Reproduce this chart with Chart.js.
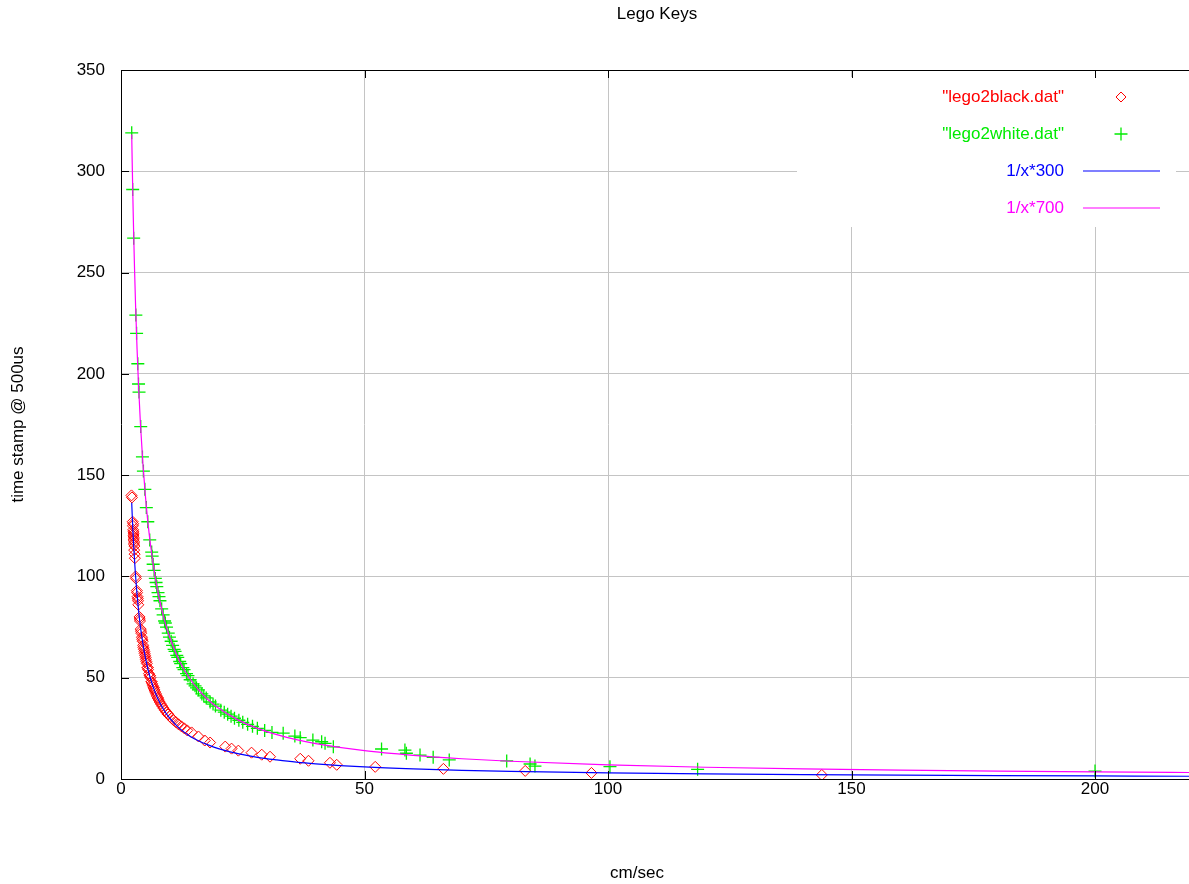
<!DOCTYPE html>
<html>
<head>
<meta charset="utf-8">
<script src="https://cdn.jsdelivr.net/npm/chart.js@4/dist/chart.umd.min.js"></script>
<style>
html,body{margin:0;padding:0;background:#fff;}
#wrap{width:1189px;height:884px;}
</style>
</head>
<body>
<div id="wrap"><canvas id="c" width="1189" height="884"></canvas></div>
<script>
// ---- data ----
const chartTitle = "Lego Keys";
const xTitle = "cm/sec";
const yTitle = "time stamp @ 500us";
const xTicks = [0, 50, 100, 150, 200];
const yTicks = [0, 50, 100, 150, 200, 250, 300, 350];

const blackLabel = '"lego2black.dat"';
const blackX = [2.15,2.25,2.4,2.5,2.45,2.5,2.55,2.6,2.55,2.65,2.6,2.7,2.65,2.75,2.7,2.8,2.85,3.0,3.05,3.25,3.3,3.4,3.45,3.5,3.55,3.8,3.85,3.9,4.05,4.1,4.15,4.3,4.35,4.45,4.55,4.6,4.7,4.8,4.85,4.95,5.05,5.1,5.2,5.3,5.45,5.5,5.55,5.75,5.9,5.95,6.05,6.25,6.3,6.4,6.55,6.7,6.75,6.85,7.0,7.2,7.35,7.55,7.6,7.75,7.95,8.2,8.45,8.7,9.0,9.3,9.6,9.7,10.0,10.4,10.8,11.3,11.8,12.4,13.0,13.6,14.5,15.9,17.2,18.3,21.4,22.7,24.1,26.8,28.9,30.6,36.8,38.5,42.9,44.3,52.2,66.2,83,96.6,143.9];
const blackY = [140,139,127,126,125,123,122,121,120,119,118,117,116,115,113,111,109,100,99,93,92,90,89,88,86,80,79,78,74,73,72,70,69,68,66,65,64,63,62,61,60,59,58,57,55,55,54,52,51,51,50,48,48,47,46,45,45,44,43,42,41,40,40,39,38,37,36,35,34,33,32,32,31,30,29,28,27,26,25,24,23,21,19,18,16,15,14,13,12,11,10,9,8,7,6,5,4,3,2];

const whiteLabel = '"lego2white.dat"';
const whiteX = [2.2,2.4,2.6,3.05,3.2,3.45,3.6,3.7,4.05,4.4,4.6,4.9,5.2,5.5,5.9,6.3,6.4,6.6,6.8,7.05,7.2,7.35,7.6,7.8,8.0,8.35,8.65,8.95,9.1,9.35,9.7,9.95,10.3,10.6,10.9,11.1,11.45,11.65,12.05,12.25,12.7,12.95,13.45,13.75,14.2,14.8,15.2,15.5,15.9,16.6,17.0,17.5,18.3,18.9,19.4,20.5,21.2,21.9,22.6,23.3,24.2,25.0,26.0,27.0,28.0,29.5,31.0,33.3,35.7,36.8,39.4,41.2,41.9,43.6,53.5,58.3,58.6,61.4,64.1,67.4,79.2,84,85,100.4,118.4,200];
const whiteY = [319,291,267,229,220,205,195,191,174,159,152,143,134,127,118,112,110,106,103,99,97,95,92,90,88,84,81,78,77,75,72,70,68,66,64,63,61,60,58,57,55,54,52,51,49,47,46,45,44,42,41,40,38,37,36,34,33,32,31,30,29,28,27,26,25,24,23,22.6,21.2,20.4,19.2,18.4,17.6,15.9,14.8,14.3,12.7,11.8,10.7,9.4,8.9,7.4,6.4,6.1,4.8,3.9];

// curves as drawn: 1/x*300 and 1/x*700
const curveX = [2.2,2.3,2.4,2.5,2.6,2.8,3,3.3,3.6,4,4.5,5,5.5,6,7,8,9,10,12,14,16,18,20,24,28,32,36,40,50,60,70,80,100,120,140,160,180,200,220];
const c300Label = "1/x*300";
const c300Y = [136.4,130.4,125,120,115.4,107.1,100,90.9,83.3,75,66.7,60,54.5,50,42.9,37.5,33.3,30,25,21.4,18.75,16.7,15,12.5,10.7,9.4,8.3,7.5,6,5,4.3,3.75,3,2.5,2.14,1.88,1.67,1.5,1.36];
const c700Label = "1/x*700";
const c700Y = [318.2,304.3,291.7,280,269.2,250,233.3,212.1,194.4,175,155.6,140,127.3,116.7,100,87.5,77.8,70,58.3,50,43.75,38.9,35,29.2,25,21.9,19.4,17.5,14,11.7,10,8.75,7,5.8,5,4.4,3.9,3.5,3.2];

const RED = "rgb(255,0,0)", GREEN = "rgb(0,235,0)", BLUE = "rgb(0,0,255)", MAGENTA = "rgb(255,0,255)";
const FONT = "'Liberation Sans', Arial, sans-serif";

function pts(xs, ys){ return xs.map((x,i)=>({x:x, y:ys[i]})); }

const keyBox = {left:797, top:77, right:1176, bottom:227};

const gnuplotDecor = {
  id: 'gnuplotDecor',
  beforeDatasetsDraw(chart){
    const ctx = chart.ctx;
    ctx.save();
    ctx.fillStyle = '#fff';
    ctx.fillRect(keyBox.left, keyBox.top, keyBox.right-keyBox.left, keyBox.bottom-keyBox.top);
    ctx.restore();
  },
  afterDatasetsDraw(chart){
    const ctx = chart.ctx, a = chart.chartArea;
    const xs = chart.scales.x, ys = chart.scales.y;
    ctx.save();
    ctx.strokeStyle = '#000';
    ctx.lineWidth = 1;
    ctx.beginPath();
    ctx.moveTo(Math.round(a.left)+0.5, a.top); ctx.lineTo(Math.round(a.left)+0.5, a.bottom);
    ctx.moveTo(a.left, Math.round(a.bottom)+0.5); ctx.lineTo(a.right, Math.round(a.bottom)+0.5);
    ctx.moveTo(a.left, Math.round(a.top)+0.5); ctx.lineTo(a.right, Math.round(a.top)+0.5);
    yTicks.forEach(v=>{ const y = Math.round(ys.getPixelForValue(v))+0.5; ctx.moveTo(a.left, y); ctx.lineTo(a.left+8, y); });
    xTicks.forEach(v=>{ const x = Math.round(xs.getPixelForValue(v))+0.5; ctx.moveTo(x, a.bottom); ctx.lineTo(x, a.bottom-8); ctx.moveTo(x, a.top); ctx.lineTo(x, a.top+8); });
    ctx.stroke();

    // titles
    ctx.font = '17px ' + FONT;
    ctx.fillStyle = '#000';
    ctx.textAlign = 'center';
    ctx.textBaseline = 'middle';
    ctx.fillText(chartTitle, 657, 14);
    ctx.fillText(xTitle, 637, 873);

    // key
    ctx.textAlign = 'right';
    const tx = 1064, sx = 1121, l0 = 1083, l1 = 1160;
    const rows = [97, 134, 171, 208];
    ctx.fillStyle = RED; ctx.fillText(blackLabel, tx, rows[0]);
    ctx.fillStyle = GREEN; ctx.fillText(whiteLabel, tx, rows[1]);
    ctx.fillStyle = BLUE; ctx.fillText(c300Label, tx, rows[2]);
    ctx.fillStyle = MAGENTA; ctx.fillText(c700Label, tx, rows[3]);
    ctx.lineWidth = 1;
    ctx.strokeStyle = RED; ctx.beginPath();
    ctx.moveTo(sx, rows[0]-5); ctx.lineTo(sx+5, rows[0]); ctx.lineTo(sx, rows[0]+5); ctx.lineTo(sx-5, rows[0]); ctx.closePath(); ctx.stroke();
    ctx.strokeStyle = GREEN; ctx.lineWidth = 1.3; ctx.beginPath();
    ctx.moveTo(sx-6.5, rows[1]); ctx.lineTo(sx+6.5, rows[1]); ctx.moveTo(sx, rows[1]-6.5); ctx.lineTo(sx, rows[1]+6.5); ctx.stroke();
    ctx.lineWidth = 1.2;
    ctx.strokeStyle = BLUE; ctx.beginPath(); ctx.moveTo(l0, rows[2]); ctx.lineTo(l1, rows[2]); ctx.stroke();
    ctx.strokeStyle = MAGENTA; ctx.beginPath(); ctx.moveTo(l0, rows[3]); ctx.lineTo(l1, rows[3]); ctx.stroke();
    ctx.restore();
  }
};

const gridColor = (ctx) => (ctx.tick && ctx.tick.value === 0) ? 'rgba(0,0,0,0)' : '#c4c4c4';

new Chart(document.getElementById('c'), {
  type: 'scatter',
  data: {
    datasets: [
      {label: blackLabel, data: pts(blackX, blackY), pointStyle:'rectRot', pointRadius:5.5, pointBorderWidth:1, borderColor:RED, backgroundColor:'rgba(0,0,0,0)', showLine:false, order:3},
      {label: whiteLabel, data: pts(whiteX, whiteY), pointStyle:'cross', pointRadius:6.5, pointBorderWidth:1.3, borderColor:GREEN, backgroundColor:GREEN, showLine:false, order:2},
      {label: c300Label, data: pts(curveX, c300Y), showLine:true, pointRadius:0, borderColor:BLUE, borderWidth:1.2, cubicInterpolationMode:'monotone', order:1},
      {label: c700Label, data: pts(curveX, c700Y), showLine:true, pointRadius:0, borderColor:MAGENTA, borderWidth:1.2, cubicInterpolationMode:'monotone', order:0}
    ]
  },
  options: {
    responsive:false,
    animation:false,
    events:[],
    layout:{autoPadding:false, padding:{left:0,right:0,top:70,bottom:0}},
    plugins:{
      legend:{display:false},
      tooltip:{enabled:false},
      title:{display:false, text:chartTitle}
    },
    scales:{
      x:{type:'linear', min:0, max:219.3,
         afterFit(s){ s.height = 105; s.paddingRight = 0; s.paddingLeft = 0; },
         afterBuildTicks(s){ s.ticks = xTicks.map(v=>({value:v})); },
         ticks:{color:'#000', font:{family:FONT, size:17}, padding:0, maxRotation:0, autoSkip:false, includeBounds:false},
         grid:{color:gridColor, drawTicks:false, lineWidth:1},
         border:{display:false},
         title:{display:false, text:xTitle}
      },
      y:{type:'linear', min:0, max:350,
         afterFit(s){ s.width = 121; s.paddingTop = 0; s.paddingBottom = 0; },
         afterBuildTicks(s){ s.ticks = yTicks.map(v=>({value:v})); },
         ticks:{color:'#000', font:{family:FONT, size:17}, padding:16, autoSkip:false, includeBounds:false},
         grid:{color:gridColor, drawTicks:false, lineWidth:1},
         border:{display:false},
         title:{display:true, text:yTitle, color:'#000', font:{family:FONT, size:17}, padding:{top:8,bottom:0}}
      }
    }
  },
  plugins:[gnuplotDecor]
});
</script>
</body>
</html>
